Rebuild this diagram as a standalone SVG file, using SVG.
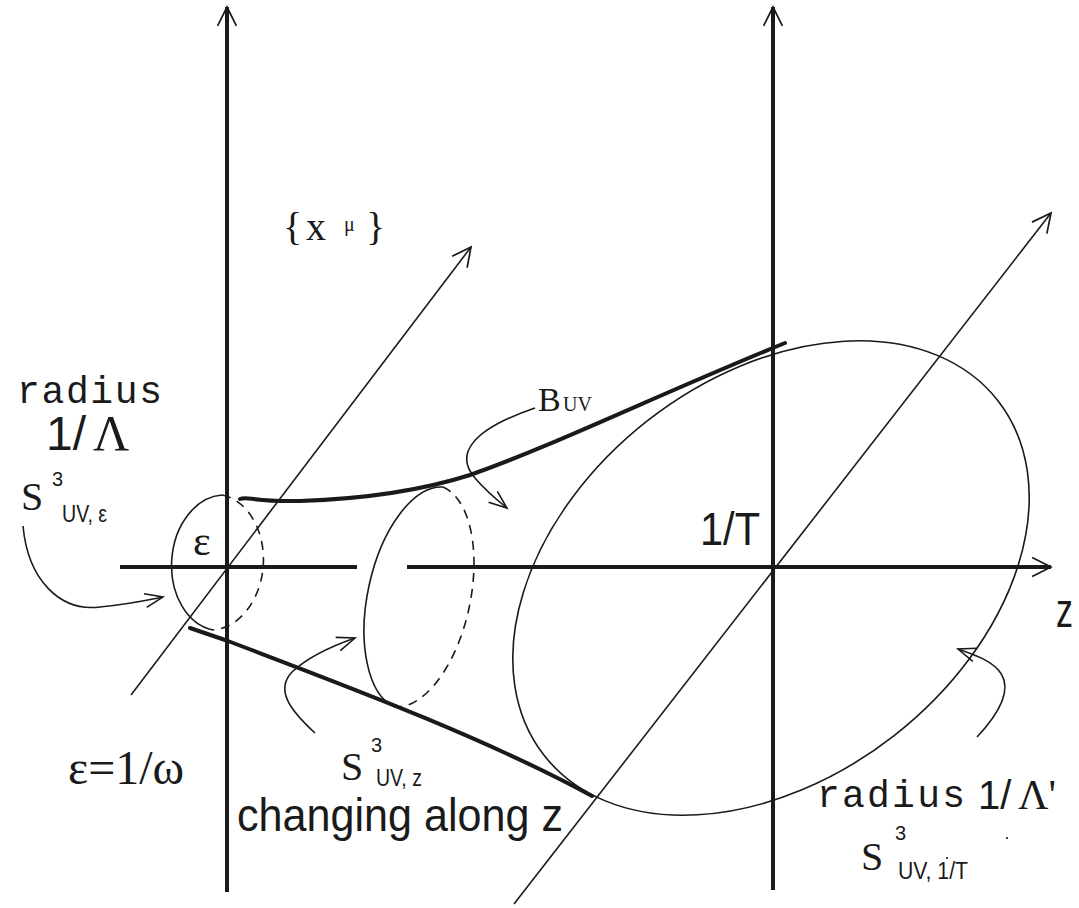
<svg xmlns="http://www.w3.org/2000/svg" width="1079" height="908" viewBox="0 0 1079 908">
<style>
.axis{stroke:#1a1a1a;stroke-width:4;fill:none}
.thin{stroke:#1a1a1a;stroke-width:1.6;fill:none}
.thick{stroke:#1a1a1a;stroke-width:4;fill:none;stroke-linecap:round}
.dash{stroke:#1a1a1a;stroke-width:1.6;fill:none;stroke-dasharray:9 7}
.mono{font-family:"Liberation Mono",monospace;fill:#1a1a1a}
.serif{font-family:"Liberation Serif",serif;fill:#1a1a1a}
.sans{font-family:"Liberation Sans",sans-serif;fill:#1a1a1a}
</style>
<defs>
<marker id="ah" markerUnits="userSpaceOnUse" markerWidth="30" markerHeight="30" refX="0" refY="0" orient="auto" overflow="visible" viewBox="-30 -15 35 30">
<path d="M-22,-11 L0,0 L-22,11" fill="none" stroke="#1a1a1a" stroke-width="2"/>
</marker>
<marker id="sh" markerUnits="userSpaceOnUse" markerWidth="24" markerHeight="24" refX="0" refY="0" orient="auto" overflow="visible" viewBox="-20 -10 24 20">
<path d="M-18,-7 L0,0 L-18,7" fill="none" stroke="#1a1a1a" stroke-width="1.6"/>
</marker>
</defs>
<rect width="1079" height="908" fill="#ffffff"/>

<g id="connectors">
<line class="axis" x1="227" y1="892" x2="227" y2="7" marker-end="url(#ah)"/>
<line class="axis" x1="773" y1="890" x2="773" y2="7" marker-end="url(#ah)"/>
<line class="axis" x1="120" y1="567" x2="357" y2="567"/>
<line class="axis" x1="407" y1="567" x2="1051" y2="567" marker-end="url(#ah)"/>
<line class="thin" x1="131" y1="695" x2="471" y2="247" marker-end="url(#ah)"/>
<line class="thin" x1="514" y1="904" x2="1051" y2="213" marker-end="url(#ah)"/>
<path class="thick" d="M240,499 C248,496 252,502 300,501 C360,499 420,491 470,475 C560,443 650,398 785,343"/>
<path class="thick" d="M190,628 L228,641 C330,680 480,735 592,796"/>
<path class="thin" d="M23,526 C28,580 60,612 100,607 C130,604 148,600 163,597" marker-end="url(#sh)"/>
<path class="thin" d="M535,408 C470,430 455,455 475,478 C485,490 497,500 507,508" marker-end="url(#sh)"/>
<path class="thin" d="M315,733 C290,710 275,690 292,672 C310,655 335,645 355,638" marker-end="url(#sh)"/>
<path class="thin" d="M977,737 C1035,675 990,660 958,649" marker-end="url(#sh)"/>
</g>

<g id="disk-epsilon">
<path class="thin" d="M222,495 A51,68 4 0 0 213,630"/>
<path class="dash" d="M222,495 A51,68 4 0 1 213,630"/>
</g>

<g id="disk-z">
<path class="thin" d="M443,487 A56,113 12 0 0 395,707"/>
<path class="dash" d="M443,487 A56,113 12 0 1 395,707"/>
</g>

<g id="disk-T">
<ellipse class="thin" cx="771" cy="578" rx="288" ry="200" transform="rotate(-38 771 578)"/>
</g>

<g id="labels">
<text class="serif" font-size="40"><tspan x="283" y="240">{</tspan><tspan x="306" y="240">x</tspan><tspan x="344" y="231" font-size="20">μ</tspan><tspan x="366" y="240">}</tspan></text>
<text class="mono" x="17" y="403" font-size="38" textLength="145" lengthAdjust="spacing">radius</text>
<text class="sans" x="46" y="450" font-size="48">1/</text>
<text class="serif" x="93" y="450" font-size="50">Λ</text>
<text class="serif" x="21" y="510" font-size="40">S</text>
<text class="sans" x="52" y="486" font-size="20">3</text>
<text class="sans" x="62" y="522" font-size="24" textLength="45" lengthAdjust="spacingAndGlyphs">UV, ε</text>
<text class="serif" x="193" y="555" font-size="42">ε</text>
<text class="serif" x="68" y="784" font-size="48" textLength="116" lengthAdjust="spacingAndGlyphs">ε=1/ω</text>
<text class="serif" x="341" y="780" font-size="40">S</text>
<text class="sans" x="371" y="752" font-size="20">3</text>
<text class="sans" x="376" y="786" font-size="24" textLength="46" lengthAdjust="spacingAndGlyphs">UV, z</text>
<text class="sans" x="237" y="831" font-size="47" textLength="326" lengthAdjust="spacingAndGlyphs">changing along z</text>
<text class="sans" x="700" y="545" font-size="46" textLength="60" lengthAdjust="spacingAndGlyphs">1/T</text>
<text class="sans" x="1056" y="627" font-size="48" textLength="17" lengthAdjust="spacingAndGlyphs">z</text>
<text class="mono" x="817" y="807" font-size="38" textLength="148" lengthAdjust="spacing">radius</text>
<text class="sans" x="978" y="809" font-size="40">1/</text>
<text class="serif" x="1018" y="809" font-size="42">Λ'</text>
<text class="serif" x="861" y="870" font-size="40">S</text>
<text class="sans" x="895" y="840" font-size="20">3</text>
<text class="sans" x="898" y="879" font-size="23" textLength="70" lengthAdjust="spacingAndGlyphs">UV, 1/T</text>
<text class="serif" x="538" y="411" font-size="34">B</text>
<text class="serif" x="563" y="411" font-size="20">UV</text>
<circle cx="1007" cy="838" r="1.1" fill="#1a1a1a"/>
<circle cx="947" cy="858" r="1.1" fill="#1a1a1a"/>
</g>
</svg>
